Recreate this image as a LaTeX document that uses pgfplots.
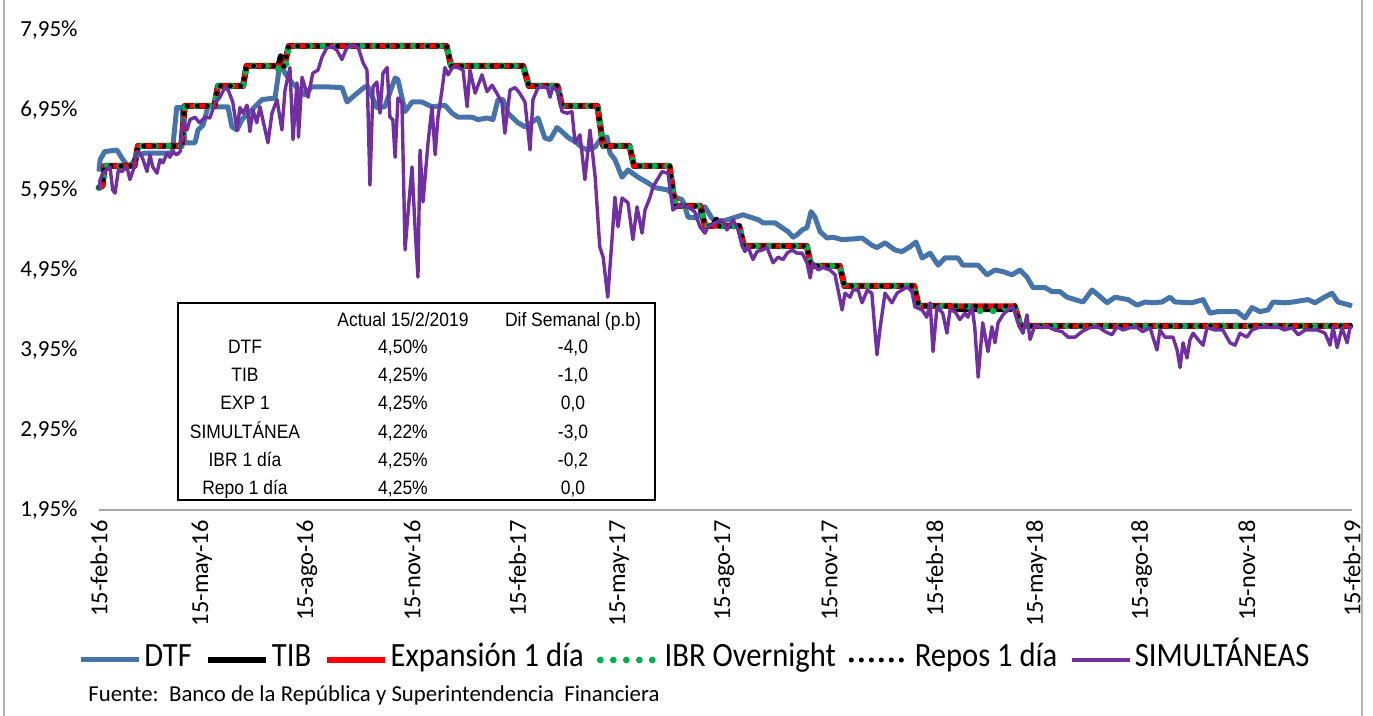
\documentclass[border=0pt]{standalone}
\usepackage{pgfplots}
\pgfplotsset{compat=1.18}
\usepackage{fontspec}
\setmainfont{Carlito}
\newfontfamily\legfont[FakeStretch=0.9]{Carlito}
\newfontfamily\arialf[FakeStretch=0.9]{Liberation Sans}
\definecolor{dtfblue}{HTML}{4674A9}
\definecolor{simpurple}{HTML}{7030A0}
\definecolor{ibrgreen}{HTML}{00B050}
\begin{document}
\begin{tikzpicture}
\useasboundingbox (-49.5pt,-103pt) rectangle (637pt,255pt);
\draw[gray!60, line width=0.8pt] (-47.5pt,-103pt) -- (-47.5pt,255pt);
\draw[gray!60, line width=0.8pt] (631.5pt,-103pt) -- (631.5pt,255pt);
\begin{axis}[
  scale only axis, width=626.5pt, height=240pt,
  xmin=0, xmax=1096, ymin=1.95, ymax=7.95,
  axis x line=bottom, axis y line=left,
  x axis line style={-, gray!70, line width=0.8pt},
  y axis line style={draw=none},
  major tick length=0pt,
  xtick={0,90,182,274,366,455,547,639,731,820,912,1004,1096},
  xticklabels={15-feb-16,15-may-16,15-ago-16,15-nov-16,15-feb-17,15-may-17,15-ago-17,15-nov-17,15-feb-18,15-may-18,15-ago-18,15-nov-18,15-feb-19},
  xticklabel style={rotate=90, anchor=east, inner sep=0pt, font=\fontsize{12.2}{13}\selectfont},
  xticklabel shift=5pt,
  ytick={1.95,2.95,3.95,4.95,5.95,6.95,7.95},
  yticklabels={{1,95\%},{2,95\%},{3,95\%},{4,95\%},{5,95\%},{6,95\%},{7,95\%}},
  yticklabel style={anchor=east, inner sep=0pt, font=\fontsize{11.5}{12}\selectfont},
  yticklabel shift=10.5pt,
  legend style={at={(0.476,-0.3125)}, anchor=center, draw=none, fill=none,
    font=\legfont\fontsize{17}{18}\selectfont, inner sep=0pt,
    nodes={text height=0.95em, text depth=0.25em, inner sep=1.5pt},
    /tikz/every even column/.append style={column sep=5pt}},
  legend columns=6,
  legend image code/.code={\draw[#1] (0pt,0pt) -- (29pt,0pt);},
  clip=false,
]
\addplot[dtfblue, line width=2.5pt, line join=round] coordinates {
(0,6.18)(1,6.33)(5,6.43)(15.7,6.45)(20,6.35)(25.4,6.24)(29.7,6.29)(33.2,6.39)(40,6.41)(64,6.41)(68,6.98)(72.6,6.98)(75.2,6.54)(84,6.54)(86.6,6.70)(91,6.76)(95.3,6.99)(112.8,6.99)(116.3,6.74)(120.7,6.70)(125,6.83)(142.6,7.08)(154,7.10)(158.3,7.54)(162.7,7.41)(168.8,7.29)(180,7.14)(186,7.24)(197.7,7.24)(212.6,7.23)(217,7.05)(224,7.14)(232.7,7.24)(235.3,7.24)(243,6.98)(250,6.99)(259,7.35)(261.5,7.33)(267.7,6.93)(273.8,7.05)(282.5,7.05)(291.3,6.99)(302.6,7.01)(308.8,6.91)(314,6.86)(326.3,6.86)(331.5,6.83)(339.4,6.85)(344.6,6.83)(349,7.08)(353.4,7.08)(357.7,6.91)(366.5,6.79)(372.6,6.74)(384,6.85)(390,6.60)(394.5,6.58)(400.6,6.73)(405,6.68)(410,6.61)(418,6.54)(422.5,6.48)(427.7,6.45)(434,6.49)(440,6.61)(444.4,6.61)(447,6.41)(451.3,6.33)(457.5,6.11)(462.7,6.20)(471.5,6.11)(480,6.04)(486.3,5.98)(497.7,5.95)(503.8,5.86)(510,5.83)(512.6,5.74)(515.2,5.61)(523,5.60)(530,5.74)(536,5.60)(541.4,5.54)(550,5.58)(563.3,5.64)(576.4,5.58)(580.8,5.54)(591.3,5.54)(597.4,5.48)(602.7,5.43)(607,5.36)(610.5,5.39)(615,5.45)(619.3,5.48)(622.8,5.68)(626.3,5.61)(630.7,5.43)(636.8,5.35)(642,5.36)(650,5.33)(661.3,5.34)(667.4,5.35)(676,5.26)(680.5,5.23)(687.5,5.29)(696.3,5.20)(702.4,5.18)(709.4,5.24)(714.6,5.30)(720,5.10)(727,5.16)(734,5.01)(740,5.10)(751.4,5.10)(755.7,5.01)(769,5.01)(776.7,4.89)(783.7,4.95)(790.7,4.93)(798.6,4.89)(805.6,4.95)(811.7,4.86)(817,4.73)(827.5,4.73)(833.6,4.68)(840.6,4.68)(846.7,4.61)(853.7,4.58)(860.7,4.55)(868.6,4.70)(873.8,4.64)(881.7,4.54)(888.7,4.61)(900,4.58)(908,4.51)(915,4.55)(921,4.54)(929.8,4.55)(936.8,4.61)(941.2,4.55)(956,4.54)(965.7,4.58)(971.8,4.41)(978.8,4.43)(995.4,4.43)(1002.4,4.35)(1008.5,4.48)(1015.5,4.43)(1022.5,4.45)(1027,4.55)(1037.4,4.54)(1044.4,4.55)(1057.5,4.58)(1063.6,4.54)(1070.6,4.60)(1078.5,4.66)(1083.8,4.55)(1094.2,4.51)(1096,4.50)
};
\addlegendentry{DTF}
\addplot[black, line width=3pt, line join=round] coordinates {
(0,5.98)(3,6.00)(5,6.25)(31,6.25)(34,6.50)(72,6.50)(75,7.00)(101,7.00)(104,7.25)(126,7.25)(129,7.50)(157,7.50)(159,7.62)(161,7.55)(162,7.50)(166,7.75)(304,7.75)(308,7.50)(371,7.50)(376,7.25)(401,7.25)(405,7.00)(436,7.00)(441,6.50)(464,6.50)(468,6.25)(499,6.25)(504,5.75)(526,5.75)(530,5.50)(537,5.50)(540,5.58)(544,5.50)(560,5.50)(564,5.25)(619,5.25)(623,5.00)(648,5.00)(652,4.75)(713,4.75)(717,4.50)(745,4.50)(750,4.46)(797,4.46)(801,4.50)(806,4.25)(1096,4.25)
};
\addlegendentry{TIB}
\addplot[red, line width=2.7pt, line join=round] coordinates {
(0,5.98)(3,6.00)(5,6.25)(31,6.25)(34,6.50)(72,6.50)(75,7.00)(101,7.00)(104,7.25)(126,7.25)(129,7.50)(162,7.50)(166,7.75)(304,7.75)(308,7.50)(371,7.50)(376,7.25)(401,7.25)(405,7.00)(436,7.00)(441,6.50)(464,6.50)(468,6.25)(499,6.25)(504,5.75)(526,5.75)(530,5.50)(560,5.50)(564,5.25)(619,5.25)(623,5.00)(648,5.00)(652,4.75)(713,4.75)(717,4.50)(801,4.50)(806,4.25)(1096,4.25)
};
\addlegendentry{Expansión 1 día}
\addplot[ibrgreen, line width=3.4pt, line cap=round, dash pattern=on 0pt off 6.5pt] coordinates {
(0,5.98)(3,6.00)(5,6.25)(31,6.25)(34,6.50)(72,6.50)(75,7.00)(101,7.00)(104,7.25)(126,7.25)(129,7.50)(155,7.50)(157,7.46)(163,7.46)(166,7.75)(304,7.75)(308,7.50)(371,7.50)(376,7.25)(401,7.25)(405,7.00)(436,7.00)(441,6.50)(464,6.50)(468,6.25)(499,6.25)(504,5.75)(526,5.75)(530,5.50)(560,5.50)(564,5.25)(619,5.25)(623,5.00)(648,5.00)(652,4.75)(713,4.75)(717,4.50)(760,4.50)(765,4.44)(790,4.44)(795,4.50)(801,4.50)(806,4.25)(1096,4.25)
};
\addlegendentry{IBR Overnight}
\addplot[black, line width=2.5pt, line cap=round, dash pattern=on 0pt off 5pt] coordinates {
(0,5.98)(3,6.00)(5,6.25)(31,6.25)(34,6.50)(72,6.50)(75,7.00)(101,7.00)(104,7.25)(126,7.25)(129,7.50)(162,7.50)(166,7.75)(304,7.75)(308,7.50)(371,7.50)(376,7.25)(401,7.25)(405,7.00)(436,7.00)(441,6.50)(464,6.50)(468,6.25)(499,6.25)(504,5.75)(526,5.75)(530,5.50)(560,5.50)(564,5.25)(619,5.25)(623,5.00)(648,5.00)(652,4.75)(713,4.75)(717,4.50)(801,4.50)(806,4.25)(1096,4.25)
};
\addlegendentry{Repos 1 día}
\addplot[simpurple, line width=1.7pt, line join=round] coordinates {
(0,5.95)(1,6.08)(3.5,6.16)(9.6,6.24)(12,5.95)(14,5.91)(17,6.20)(20,6.18)(24.5,6.24)(27,6.08)(30,6.20)(33,6.43)(36,6.41)(38.5,6.33)(42,6.18)(44.6,6.39)(47,6.24)(50.7,6.16)(53.4,6.33)(56,6.29)(59.5,6.41)(62,6.36)(64.7,6.43)(68,6.39)(71,6.43)(73.5,6.83)(77,6.70)(79.6,6.83)(84,6.86)(88,6.79)(92.7,6.86)(97,6.85)(101.5,7.04)(105.8,7.11)(110,7.23)(113,7.20)(117,7.05)(120.7,6.70)(123.3,6.98)(126,6.91)(129.5,7.01)(132,6.68)(134.7,6.95)(138,6.79)(140.8,6.99)(147.8,6.54)(151.3,6.91)(155.7,7.08)(160,6.70)(162.7,7.20)(167,7.48)(169.7,6.58)(173.2,7.29)(174.5,6.61)(177.6,7.36)(182.8,7.11)(187,7.41)(191.6,7.45)(195,7.61)(199.4,7.73)(203.8,7.74)(208,7.70)(212.5,7.58)(217,7.74)(222,7.76)(226.5,7.74)(231,7.54)(234.4,7.45)(237,6.01)(239.7,7.24)(243,7.30)(245.8,6.91)(248.4,7.41)(252,7.48)(254.5,6.86)(257,6.83)(259,6.36)(261.5,7.10)(265,7.04)(267.7,5.20)(270.3,5.66)(273.8,6.24)(276.4,5.49)(279,4.86)(280.8,6.45)(283.4,5.80)(287.8,6.54)(291.3,6.99)(294,6.39)(296.5,6.86)(300,7.20)(302.6,7.48)(305.3,7.39)(309.6,7.49)(314,7.48)(318.4,7.45)(322,6.99)(324.5,7.45)(329,7.16)(335,7.39)(339.4,7.18)(343.8,7.26)(348,7.16)(352.5,7.04)(355,6.66)(359.5,7.20)(364,7.23)(368,7.16)(372.6,7.05)(377,6.45)(379.6,7.08)(384,7.23)(392,7.24)(394.5,7.11)(397,7.24)(401.5,7.18)(405,6.93)(409.4,6.91)(413.7,6.93)(416.4,6.54)(420.7,6.64)(425,6.08)(429.5,6.70)(434,6.11)(438,5.24)(441,5.11)(445,4.61)(448.7,5.33)(451.3,5.86)(454,5.49)(457.5,5.85)(462.7,5.79)(467,5.33)(470.6,5.74)(475,5.41)(477.6,5.70)(482,5.86)(484.6,5.99)(492.5,6.18)(497.7,6.16)(502,5.70)(505.6,5.74)(510,5.76)(515,5.74)(521,5.68)(525.7,5.49)(530,5.41)(532.7,5.49)(538.8,5.54)(545,5.58)(549.3,5.45)(554.6,5.58)(559,5.45)(562.4,5.26)(565,5.18)(567.7,5.24)(572,5.08)(575.5,5.18)(580,5.20)(584.3,5.23)(589.6,5.04)(594,5.11)(598.3,5.08)(601.8,5.16)(606.2,5.20)(610.6,5.16)(615,5.16)(619.3,5.04)(622,4.85)(624.5,5.04)(629,4.95)(633.3,4.98)(639.4,4.95)(643.8,4.89)(650,4.45)(652.5,4.66)(657,4.61)(659.5,4.70)(664,4.70)(667.4,4.54)(672,4.70)(676,4.66)(680.5,3.89)(683,4.20)(687.5,4.66)(693.6,4.54)(698,4.66)(702.4,4.70)(706.8,4.74)(711,4.68)(713.7,4.49)(720,4.45)(724,4.36)(727,4.54)(729.5,3.93)(733,4.49)(738,4.41)(741.7,4.16)(744.4,4.45)(748.7,4.43)(753,4.33)(757.5,4.41)(760,4.36)(763.6,4.49)(766,4.24)(769,3.61)(773,4.29)(777.6,3.93)(781,4.24)(783.7,4.04)(786.4,4.29)(790.7,4.39)(795,4.45)(799.5,4.49)(803,4.33)(805.6,4.23)(808.2,4.16)(811.7,4.39)(814.4,4.08)(818.7,4.26)(824.8,4.23)(830,4.24)(836,4.20)(842.3,4.18)(847.6,4.11)(853.7,4.11)(859.8,4.18)(866.8,4.23)(873.8,4.24)(880,4.18)(886,4.14)(890.4,4.24)(895.7,4.20)(901.8,4.23)(908,4.23)(913,4.18)(919.3,4.23)(925.4,3.95)(928,4.20)(932.4,4.11)(939.4,4.11)(943,3.95)(945.6,3.73)(948.2,4.04)(951.7,3.85)(954.3,4.08)(957,4.16)(961.3,4.08)(965.7,4.01)(969.2,4.23)(976,4.20)(983,4.20)(989.3,4.04)(993.7,4.01)(998,4.16)(1004,4.11)(1008.5,4.20)(1014,4.23)(1020,4.24)(1026,4.23)(1031,4.24)(1037,4.20)(1043.5,4.23)(1049,4.14)(1055,4.20)(1061,4.20)(1066,4.20)(1072.4,4.16)(1076.8,4.01)(1079.4,4.24)(1083,3.98)(1087.3,4.23)(1091.7,4.04)(1094.3,4.24)(1096,4.22)
};
\addlegendentry{SIMULTÁNEAS}
\end{axis}
% summary table
\draw[fill=white, line width=0.8pt] (39.5pt,5pt) rectangle (278pt,103.5pt);
\begin{scope}[every node/.style={font=\arialf\fontsize{9.7}{10}\selectfont, inner sep=0pt, anchor=base}]
\node at (152pt,91.5pt) {Actual 15/2/2019};
\node at (237pt,91.5pt) {Dif Semanal (p.b)};
\node at (73pt,78pt) {DTF};        \node at (152pt,78pt) {4,50\%}; \node at (237pt,78pt) {-4,0};
\node at (73pt,64pt) {TIB};        \node at (152pt,64pt) {4,25\%}; \node at (237pt,64pt) {-1,0};
\node at (73pt,50pt) {EXP 1};      \node at (152pt,50pt) {4,25\%}; \node at (237pt,50pt) {0,0};
\node at (73pt,35.5pt) {SIMULTÁNEA};   \node at (152pt,35.5pt) {4,22\%};   \node at (237pt,35.5pt) {-3,0};
\node at (73pt,21.5pt) {IBR 1 día};    \node at (152pt,21.5pt) {4,25\%};   \node at (237pt,21.5pt) {-0,2};
\node at (73pt,7.5pt) {Repo 1 día};   \node at (152pt,7.5pt) {4,25\%};   \node at (237pt,7.5pt) {0,0};
\end{scope}
\node[anchor=west, inner sep=0pt, font=\fontsize{11.4}{12}\selectfont] at (-5.5pt,-92.5pt) {Fuente:\ \ Banco de la República y Superintendencia\ \ Financiera};
\end{tikzpicture}
\end{document}
